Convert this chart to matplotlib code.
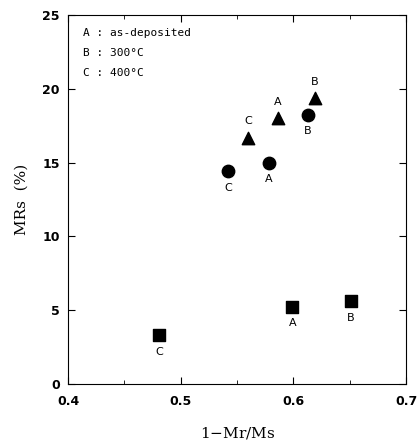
import matplotlib.pyplot as plt
from matplotlib.ticker import MultipleLocator

# data
tri_x = [0.560, 0.586, 0.619]
tri_y = [16.7, 18.0, 19.4]
tri_lab = ["C", "A", "B"]

cir_x = [0.542, 0.578, 0.613]
cir_y = [14.4, 15.0, 18.2]
cir_lab = ["C", "A", "B"]

sq_x = [0.481, 0.599, 0.651]
sq_y = [3.3, 5.2, 5.6]
sq_lab = ["C", "A", "B"]

legend_lines = ["A : as-deposited", "B : 300°C", "C : 400°C"]

fig = plt.figure(figsize=(4.2, 4.4), dpi=100)
ax = fig.add_axes([0.162, 0.127, 0.805, 0.839])

ax.scatter(tri_x, tri_y, marker="^", s=80, color="black")
ax.scatter(cir_x, cir_y, marker="o", s=80, color="black")
ax.scatter(sq_x, sq_y, marker="s", s=65, color="black")

lab_font = dict(fontsize=8, family="DejaVu Sans", ha="center")
for x, y, t in zip(tri_x, tri_y, tri_lab):
    ax.annotate(t, (x, y), xytext=(0, 8), textcoords="offset points", va="bottom", **lab_font)
for x, y, t in zip(cir_x, cir_y, cir_lab):
    ax.annotate(t, (x, y), xytext=(0, -8), textcoords="offset points", va="top", **lab_font)
for x, y, t in zip(sq_x, sq_y, sq_lab):
    ax.annotate(t, (x, y), xytext=(0, -8), textcoords="offset points", va="top", **lab_font)

for i, line in enumerate(legend_lines):
    ax.text(0.413, 23.8 - i * 1.35, line, fontsize=8, family="DejaVu Sans Mono", va="center")

ax.set_xlim(0.4, 0.7)
ax.set_ylim(0, 25)
ax.xaxis.set_major_locator(MultipleLocator(0.1))
ax.xaxis.set_minor_locator(MultipleLocator(0.05))
ax.yaxis.set_major_locator(MultipleLocator(5))
ax.tick_params(which="both", direction="in", top=True, right=True)
ax.tick_params(which="major", length=5)
ax.tick_params(which="minor", length=3)
ax.tick_params(axis="x", pad=8)
ax.tick_params(axis="y", pad=6)
for lbl in ax.get_xticklabels() + ax.get_yticklabels():
    lbl.set_fontweight("bold")
    lbl.set_fontsize(9)

ax.set_xlabel("1$-$Mr/Ms", fontsize=11, family="DejaVu Serif", labelpad=12)
ax.set_ylabel("MRs  (%)", fontsize=11, family="DejaVu Serif", labelpad=10)

fig.savefig("out.png")
